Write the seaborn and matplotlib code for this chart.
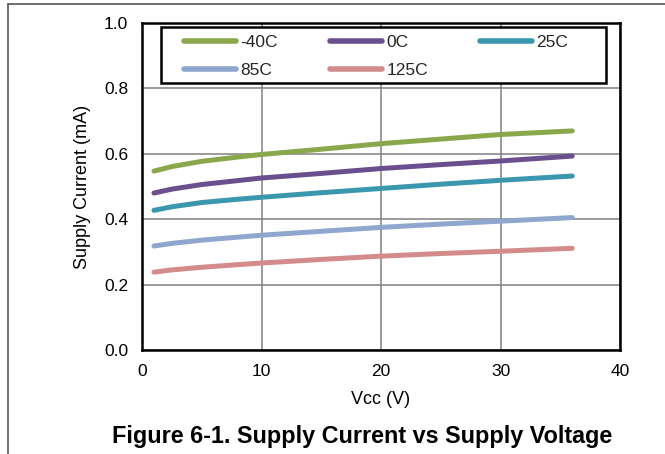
import numpy as np
import pandas as pd
import seaborn as sns
import matplotlib
matplotlib.use("Agg")
import matplotlib.pyplot as plt
from matplotlib.lines import Line2D
from matplotlib.patches import Rectangle

# ---- data ----
vcc = [1, 2.5, 5, 8, 10, 15, 20, 25, 30, 36]
i_m40 = [0.547, 0.561, 0.577, 0.590, 0.598, 0.614, 0.631, 0.645, 0.659, 0.670]
i_0 = [0.480, 0.492, 0.506, 0.518, 0.526, 0.540, 0.555, 0.567, 0.578, 0.593]
i_25 = [0.427, 0.438, 0.451, 0.461, 0.467, 0.481, 0.494, 0.507, 0.519, 0.532]
i_85 = [0.318, 0.326, 0.336, 0.345, 0.351, 0.363, 0.375, 0.385, 0.394, 0.405]
i_125 = [0.238, 0.245, 0.253, 0.261, 0.266, 0.277, 0.287, 0.295, 0.302, 0.311]
series_names = ["-40C", "0C", "25C", "85C", "125C"]
series_vals = [i_m40, i_0, i_25, i_85, i_125]
colors = ["#8aa84b", "#6a4f8e", "#3b97ae", "#8fa7ce", "#d38c8b"]
x_ticks = [0, 10, 20, 30, 40]
y_ticks = [0.0, 0.2, 0.4, 0.6, 0.8, 1.0]
title = "Figure 6-1. Supply Current vs Supply Voltage"

rows = []
for name, vals in zip(series_names, series_vals):
    for v, c in zip(vcc, vals):
        rows.append({"Vcc": v, "Current": c, "Temp": name})
df = pd.DataFrame(rows)

sns.set_theme(style="white")
plt.rcParams["font.family"] = ["Liberation Sans", "DejaVu Sans"]

fig = plt.figure(figsize=(6.65, 4.54), dpi=100)
ax = fig.add_axes([142 / 665, 1 - 350 / 454, 478 / 665, 327 / 454])

sns.lineplot(data=df, x="Vcc", y="Current", hue="Temp", hue_order=series_names,
             palette=colors, ax=ax, linewidth=3.6, solid_capstyle="round",
             solid_joinstyle="round", legend=True)

ax.set_xlim(0, 40)
ax.set_ylim(0, 1.0)
ax.set_xticks(x_ticks)
ax.set_xticklabels([f"{t:d}" for t in x_ticks])
ax.set_yticks(y_ticks)
ax.set_yticklabels([f"{t:.1f}" for t in y_ticks])
ax.grid(True, color="#808080", linewidth=1.1)
ax.set_axisbelow(True)
for s in ax.spines.values():
    s.set_visible(True)
    s.set_color("black")
    s.set_linewidth(1.8)
ax.tick_params(axis="both", length=0, labelsize=12.5, colors="black", pad=10)
ax.set_xlabel("Vcc (V)", fontsize=13, color="black", labelpad=9)
ax.set_ylabel("Supply Current (mA)", fontsize=13, color="black", labelpad=9)

# legend box
ax.add_patch(Rectangle((19 / 478, 267 / 327), 445 / 478, 56 / 327,
                       transform=ax.transAxes, facecolor="white",
                       edgecolor="black", linewidth=1.8, zorder=4,
                       clip_on=False))

handles, labels = ax.get_legend_handles_labels()
hmap = dict(zip(labels, handles))
order = ["-40C", "85C", "0C", "125C", "25C"]
ax.get_legend().remove()
leg = ax.legend([hmap[k] for k in order], order, ncol=3, loc="upper left",
                bbox_to_anchor=(42 / 478, 315 / 327), borderaxespad=0,
                frameon=False, fontsize=12.5, handlelength=3.0,
                handletextpad=0.25, columnspacing=3.0, labelspacing=0.72,
                borderpad=0)
leg.set_zorder(5)
for h in leg.get_lines():
    h.set_linewidth(4)
    h.set_solid_capstyle("round")

fig.text(362 / 665, 1 - 437 / 454, title, ha="center", va="center",
         fontsize=16.8, fontweight="bold", color="black")

# figure frame (top and left)
fig.add_artist(Line2D([8 / 665, 1], [1 - 3.5 / 454, 1 - 3.5 / 454],
                      color="#555555", linewidth=1.2, transform=fig.transFigure))
fig.add_artist(Line2D([8 / 665, 8 / 665], [0, 1 - 3.5 / 454],
                      color="#555555", linewidth=1.2, transform=fig.transFigure))

fig.savefig("out.png", dpi=100)
